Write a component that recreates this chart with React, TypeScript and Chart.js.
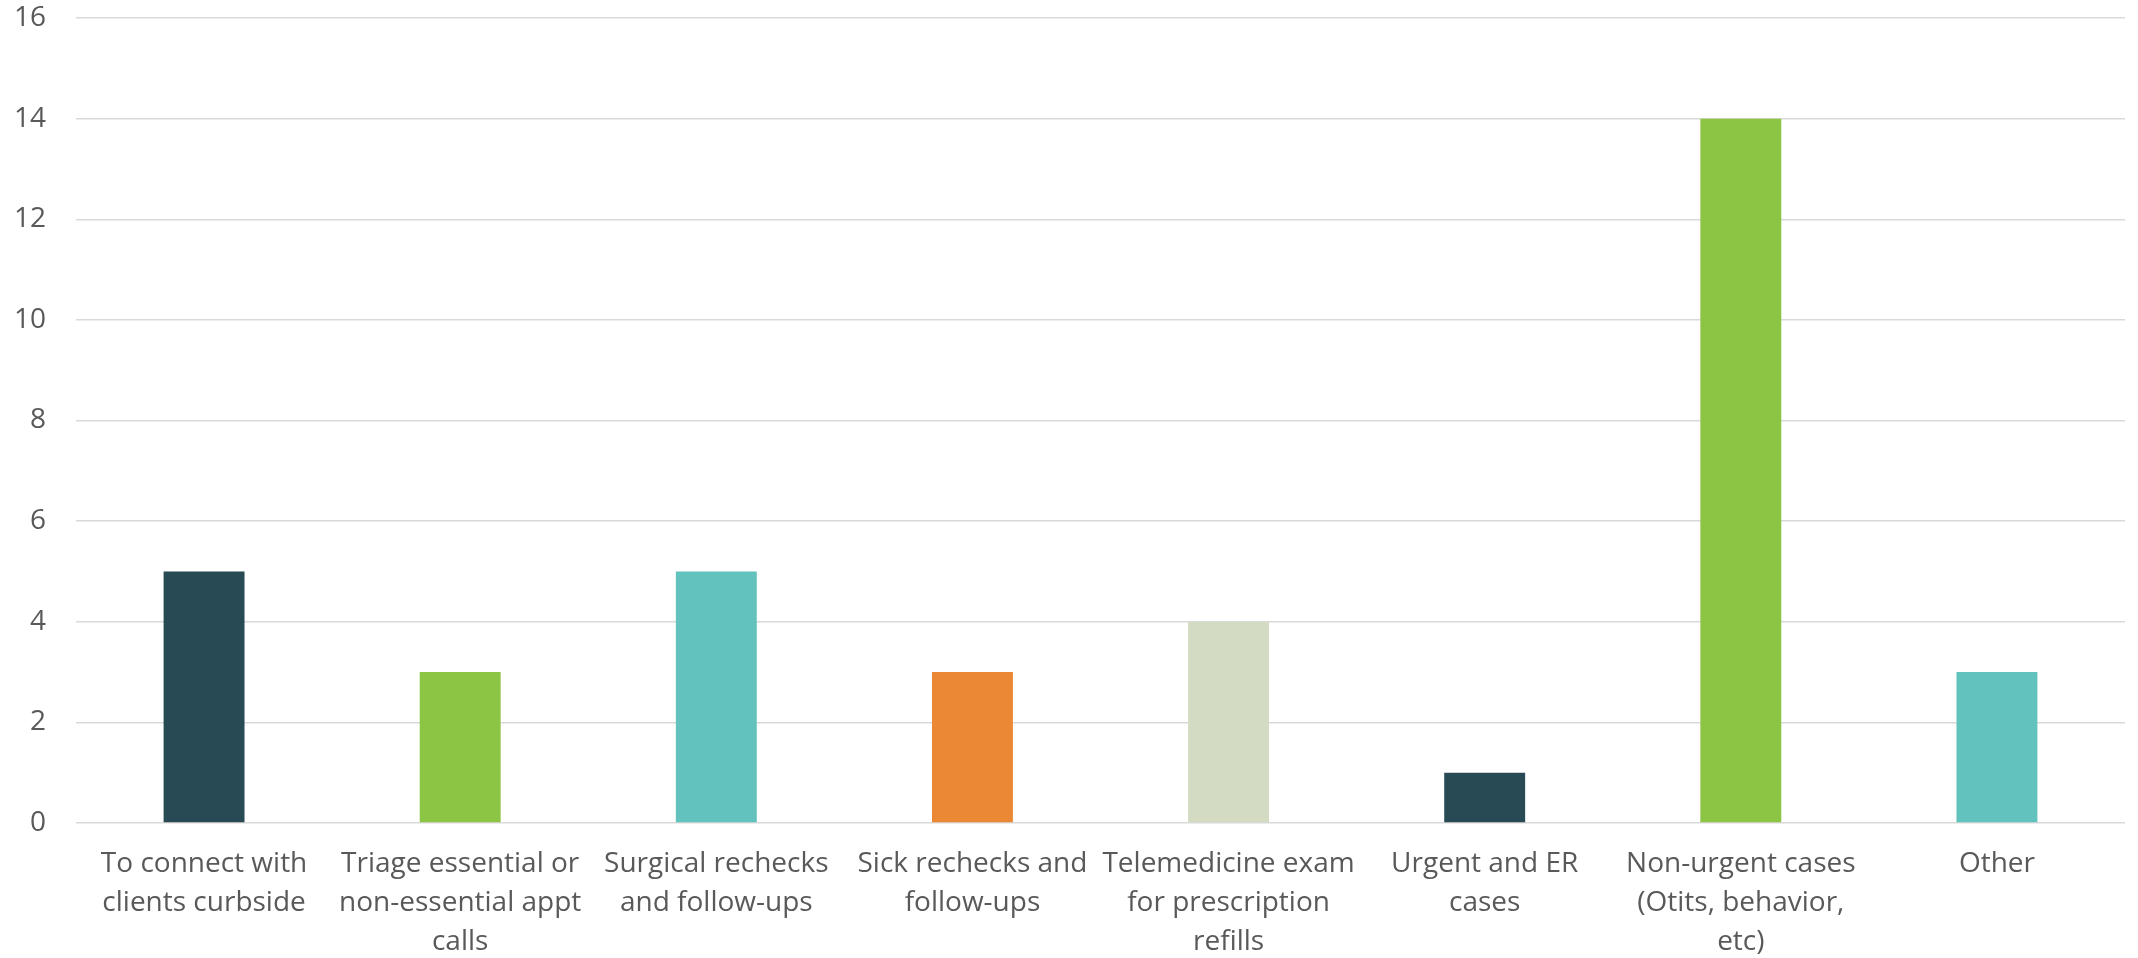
import React, { useEffect, useRef } from "react";
import { Chart, registerables } from "chart.js";

Chart.register(...registerables);

const categories: string[][] = [
  ["To connect with", "clients curbside"],
  ["Triage essential or", "non-essential appt", "calls"],
  ["Surgical rechecks", "and follow-ups"],
  ["Sick rechecks and", "follow-ups"],
  ["Telemedicine exam", "for prescription", "refills"],
  ["Urgent and ER", "cases"],
  ["Non-urgent cases", "(Otits, behavior,", "etc)"],
  ["Other"],
];
const values: number[] = [5, 3, 5, 3, 4, 1, 14, 3];
const barColors: string[] = [
  "#284A55",
  "#8CC443",
  "#62C2BD",
  "#EA8833",
  "#D3DBC3",
  "#284A55",
  "#8CC443",
  "#62C2BD",
];

export default function App() {
  const ref = useRef<HTMLCanvasElement | null>(null);
  useEffect(() => {
    document.body.style.margin = "0";
    const font = { family: "'Open Sans', sans-serif", size: 28 };
    const chart = new Chart(ref.current!, {
      type: "bar",
      data: {
        labels: categories,
        datasets: [
          {
            data: values,
            backgroundColor: barColors,
            barPercentage: 0.316,
            categoryPercentage: 1,
          },
        ],
      },
      options: {
        animation: false,
        responsive: false,
        layout: { padding: { top: 18, right: 13, left: 0, bottom: 0 } },
        plugins: { legend: { display: false }, tooltip: { enabled: false } },
        scales: {
          x: {
            grid: { display: false, drawTicks: false },
            border: { display: false },
            ticks: {
              color: "#595959",
              font: { ...font, lineHeight: 1.39 },
              padding: 22,
              maxRotation: 0,
              autoSkip: false,
            },
            afterFit: (s: any) => {
              s.height = 135;
              s.paddingLeft = 0;
              s.paddingRight = 0;
            },
          },
          y: {
            min: 0,
            max: 16,
            grid: { color: "#D9D9D9", lineWidth: 1.5, drawTicks: false },
            border: { display: false },
            ticks: {
              stepSize: 2,
              color: "#595959",
              font,
              padding: 30,
            },
            afterFit: (s: any) => {
              s.width = 76;
              s.paddingTop = 0;
              s.paddingBottom = 0;
            },
          },
        },
      },
    });
    return () => chart.destroy();
  }, []);
  return (
    <div style={{ width: 2138, height: 958 }}>
      <canvas ref={ref} width={2138} height={958} style={{ display: "block" }} />
    </div>
  );
}
